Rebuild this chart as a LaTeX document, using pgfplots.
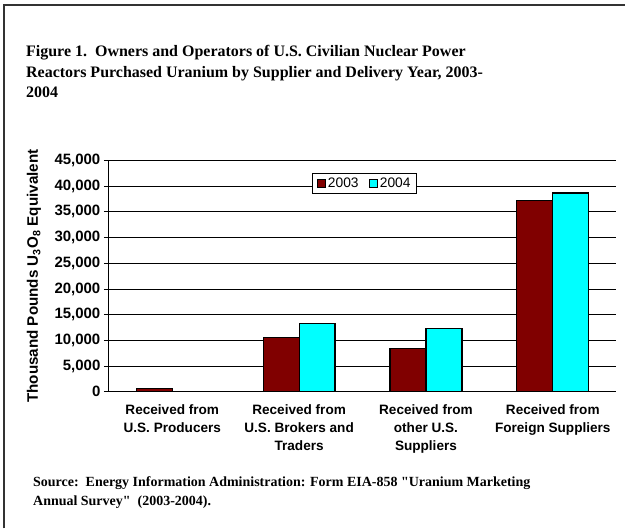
\documentclass[border=0pt]{standalone}
\usepackage{pgfplots}
\pgfplotsset{compat=1.18}
\usepackage{fontspec}
\setmainfont{Liberation Serif}
\newfontfamily\arial{Liberation Sans}
\definecolor{c2003}{HTML}{800000}
\definecolor{c2004}{HTML}{00FFFF}
\begin{document}
\begin{tikzpicture}
\path (0pt,0pt) rectangle (626pt,-529pt);
\draw[line width=1.6pt, black!80] (4pt,-529pt) -- (4pt,-5pt) -- (626pt,-5pt);
\node[anchor=base west, align=left, inner sep=0pt, font=\bfseries\fontsize{16}{20.5}\selectfont] at (26pt,-98pt)
 {Figure 1.\ \ Owners and Operators of U.S. Civilian Nuclear Power\\Reactors Purchased Uranium by Supplier and Delivery Year, 2003-\\2004};
\node[anchor=base west, align=left, inner sep=0pt, font=\bfseries\fontsize{14}{19}\selectfont] at (33pt,-506pt)
 {Source:\ \ Energy Information Administration: Form EIA-858 \textquotedbl Uranium Marketing\\Annual Survey\textquotedbl\ \ (2003-2004).};
\begin{axis}[
  at={(109pt,-392.3pt)}, anchor=south west,
  scale only axis, width=508pt, height=231.6pt,
  ybar=0pt, bar width=36pt,
  xmin=-0.5, xmax=3.5, ymin=0, ymax=45000,
  axis x line*=bottom, axis y line*=left,
  axis line style={black, line width=1pt},
  ytick={0,5000,...,45000},
  scaled y ticks=false,
  yticklabel style={font=\arial\bfseries\fontsize{15}{18}\selectfont, /pgf/number format/1000 sep={,}},
  /pgf/number format/assume math mode=true,
  ymajorgrids, major grid style={black, line width=0.8pt},
  tick align=outside, major tick length=5pt,
  tick style={black, line width=0.8pt},
  xtick={0,1,2,3},
  xticklabels={{Received from\\U.S. Producers},{Received from\\U.S. Brokers and\\Traders},{Received from\\other U.S.\\Suppliers},{Received from\\Foreign Suppliers}},
  xticklabel style={font=\arial\bfseries\fontsize{13.6}{18.3}\selectfont, align=center, yshift=-4pt},
  x tick style={draw=none},
  extra x ticks={-0.5,0.5,1.5,2.5,3.5},
  extra x tick labels={},
  extra x tick style={tick style={black, line width=0.8pt, draw=black}, major tick length=5pt, grid=none},
  ylabel={Thousand Pounds U\textsubscript{3}O\textsubscript{8} Equivalent},
  every axis y label/.style={at={(axis description cs:-0.1476,0.5)}, rotate=90, anchor=center, font=\arial\bfseries\fontsize{15.2}{18}\selectfont},
  legend style={at={(0.401,0.9456)}, anchor=north west, draw=black, line width=0.8pt, font=\arial\fontsize{13.8}{16}\selectfont, legend columns=2, inner xsep=4pt, inner ysep=2.5pt, /tikz/every even column/.append style={column sep=8pt}},
  legend image code/.code={\draw[#1, line width=0.8pt] (0pt,-4.25pt) rectangle (8.5pt,4.25pt);},
]
\addplot[fill=c2003, draw=black, line width=1.2pt] coordinates {(0,700) (1,10550) (2,8350) (3,37170)};
\addplot[fill=c2004, draw=black, line width=1.2pt] coordinates {(1,13330) (2,12240) (3,38660)};
\legend{2003,2004}
\end{axis}
\end{tikzpicture}
\end{document}
